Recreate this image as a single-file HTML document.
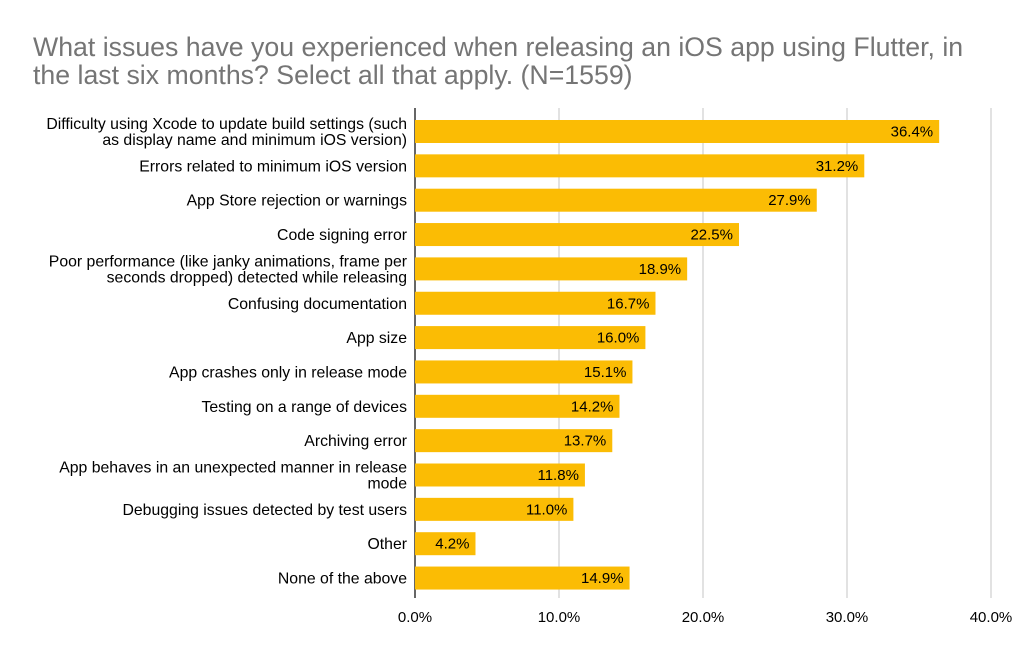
<!DOCTYPE html>
<html><head><meta charset="utf-8"><style>
body{margin:0;background:#fff;}
svg text{font-family:"Liberation Sans",Arial,sans-serif;}
</style></head><body>
<svg id="chart" width="1024" height="659" xmlns="http://www.w3.org/2000/svg">
<text x="33" y="56" font-size="26.7" fill="#757575">What issues have you experienced when releasing an iOS app using Flutter, in</text>
<text x="33" y="84" font-size="26.7" fill="#757575">the last six months? Select all that apply. (N=1559)</text>
<g id="grid"></g><g id="bars"></g><g id="labels"></g>
</svg>
<script>
const categories=[
["Difficulty using Xcode to update build settings (such","as display name and minimum iOS version)"],
["Errors related to minimum iOS version"],
["App Store rejection or warnings"],
["Code signing error"],
["Poor performance (like janky animations, frame per","seconds dropped) detected while releasing"],
["Confusing documentation"],
["App size"],
["App crashes only in release mode"],
["Testing on a range of devices"],
["Archiving error"],
["App behaves in an unexpected manner in release","mode"],
["Debugging issues detected by test users"],
["Other"],
["None of the above"]];
const values=[36.4,31.2,27.9,22.5,18.9,16.7,16.0,15.1,14.2,13.7,11.8,11.0,4.2,14.9];
const ticks=[0,10,20,30,40];
const NS="http://www.w3.org/2000/svg";
const x0=415,pxPer=14.4,yTop=108,yBot=598,y0=131.5,step=34.35,bh=23;
const xs=v=>x0+v*pxPer, ys=i=>y0+i*step;
function mk(t,a,p){const e=document.createElementNS(NS,t);for(const k in a)e.setAttribute(k,a[k]);p.appendChild(e);return e;}
const grid=document.getElementById('grid'),bars=document.getElementById('bars'),labels=document.getElementById('labels');
ticks.forEach(t=>{
 if(t>0){const l=mk('line',{x1:xs(t),x2:xs(t),y1:yTop,y2:yBot,stroke:'#c6c6c6','stroke-width':1},grid);
 
 }
 const tx=mk('text',{x:xs(t),y:622,'text-anchor':'middle','font-size':15,fill:'#000'},grid);tx.textContent=t.toFixed(1)+'%';
 
 
});
values.forEach((v,i)=>{
 const c=ys(i);
 const r=mk('rect',{x:x0,y:c-bh/2,width:xs(v)-x0,height:bh,fill:'#fbbc04'},bars);
 
 
 const vt=mk('text',{x:xs(v)-6,y:c+5,'text-anchor':'end','font-size':15,fill:'#000'},bars);vt.textContent=v.toFixed(1)+'%';
 
 
 const lines=categories[i];
 lines.forEach((s,j)=>{
  const yy=lines.length==1?c+5.5:c-2.5+j*16;
  const t=mk('text',{x:407,y:yy,'text-anchor':'end','font-size':15.8,fill:'#000'},labels);t.textContent=s;
  
  
 });
});
const ax=mk('line',{x1:x0,x2:x0,y1:yTop,y2:yBot,stroke:'#333','stroke-width':1.5},grid);


</script>
</body></html>
